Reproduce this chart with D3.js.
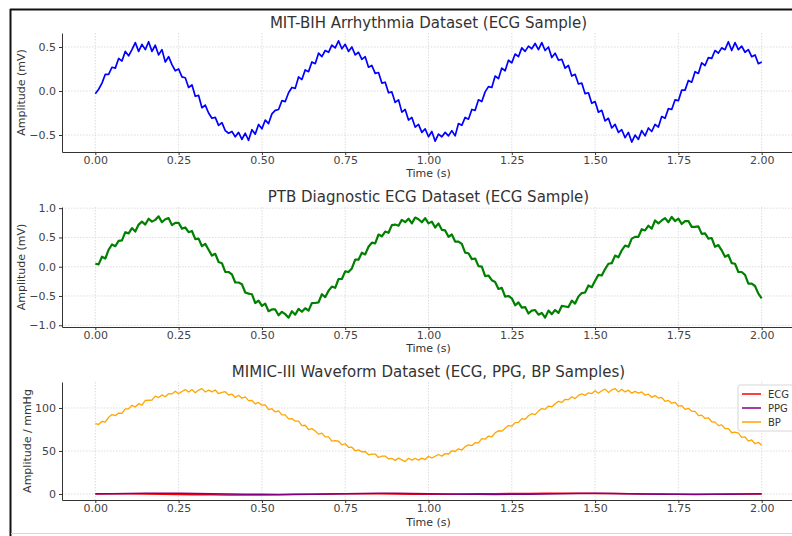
<!DOCTYPE html>
<html>
<head>
<meta charset="utf-8">
<script src="https://cdn.jsdelivr.net/npm/d3@7"></script>
<style>
body { margin: 0; background: #fff; }
svg { display: block; font-family: "DejaVu Sans", sans-serif; }
</style>
</head>
<body>
<svg id="canvas" width="792" height="536"></svg>
<script>
// samples every 0.01 s from 0 to 2 s
const sampleStep = 0.01;
const slowStep = 0.05;

const timeTicks = [0, 0.25, 0.5, 0.75, 1, 1.25, 1.5, 1.75, 2];
const mitTicks = [-0.5, 0, 0.5];
const ptbTicks = [-1, -0.5, 0, 0.5, 1];
const mimicTicks = [0, 50, 100];

const mitBih = [
  -0.03,0.02,0.09,0.19,0.19,0.27,0.26,0.37,0.34,0.45,
  0.40,0.47,0.55,0.45,0.53,0.47,0.56,0.45,0.52,0.41,
  0.47,0.33,0.39,0.30,0.23,0.25,0.16,0.15,0.04,0.07,
  -0.06,-0.05,-0.19,-0.16,-0.25,-0.31,-0.30,-0.39,-0.36,-0.45,
  -0.48,-0.46,-0.52,-0.47,-0.55,-0.48,-0.56,-0.44,-0.49,-0.38,
  -0.43,-0.33,-0.37,-0.26,-0.22,-0.21,-0.11,-0.12,-0.02,0.04,
  0.03,0.16,0.13,0.24,0.22,0.33,0.31,0.43,0.39,0.46,
  0.44,0.52,0.49,0.57,0.48,0.53,0.45,0.50,0.41,0.44,
  0.36,0.39,0.27,0.29,0.20,0.21,0.09,0.10,-0.02,-0.01,
  -0.13,-0.10,-0.24,-0.21,-0.33,-0.30,-0.41,-0.38,-0.47,-0.43,
  -0.52,-0.46,-0.57,-0.49,-0.52,-0.47,-0.51,-0.45,-0.51,-0.37,
  -0.39,-0.30,-0.32,-0.21,-0.22,-0.10,-0.12,-0.01,0.05,0.04,
  0.17,0.14,0.26,0.23,0.35,0.32,0.42,0.39,0.49,0.45,
  0.51,0.48,0.54,0.47,0.55,0.46,0.50,0.38,0.43,0.35,
  0.36,0.26,0.29,0.17,0.19,0.08,0.09,-0.03,-0.02,-0.14,
  -0.12,-0.24,-0.22,-0.34,-0.31,-0.42,-0.38,-0.47,-0.44,-0.53,
  -0.47,-0.58,-0.50,-0.55,-0.45,-0.51,-0.42,-0.46,-0.38,-0.41,
  -0.29,-0.31,-0.20,-0.21,-0.10,-0.11,0.01,0.01,0.12,0.10,
  0.22,0.20,0.32,0.29,0.38,0.37,0.46,0.43,0.49,0.47,
  0.56,0.46,0.55,0.47,0.51,0.44,0.47,0.39,0.41,0.31,
  0.33
];

const ptb = [
  0.05,0.04,0.17,0.14,0.29,0.38,0.35,0.44,0.45,0.59,
  0.57,0.66,0.60,0.72,0.77,0.72,0.82,0.77,0.80,0.86,
  0.76,0.81,0.83,0.71,0.75,0.75,0.65,0.67,0.59,0.61,
  0.47,0.48,0.35,0.39,0.29,0.19,0.22,0.08,0.06,-0.09,
  -0.09,-0.13,-0.27,-0.27,-0.30,-0.44,-0.46,-0.47,-0.62,-0.58,
  -0.67,-0.63,-0.76,-0.73,-0.73,-0.83,-0.77,-0.81,-0.87,-0.76,
  -0.82,-0.72,-0.77,-0.71,-0.75,-0.62,-0.62,-0.61,-0.47,-0.52,
  -0.41,-0.34,-0.36,-0.21,-0.21,-0.08,-0.09,-0.03,0.12,0.12,
  0.24,0.21,0.34,0.41,0.40,0.55,0.52,0.60,0.58,0.71,
  0.72,0.70,0.80,0.76,0.82,0.74,0.84,0.81,0.76,0.83,
  0.74,0.77,0.67,0.74,0.63,0.62,0.51,0.55,0.43,0.43,
  0.39,0.24,0.23,0.13,0.14,0.01,0.00,-0.16,-0.15,-0.23,
  -0.26,-0.38,-0.36,-0.51,-0.50,-0.54,-0.66,-0.61,-0.70,-0.69,
  -0.80,-0.75,-0.74,-0.82,-0.79,-0.87,-0.75,-0.81,-0.74,-0.79,
  -0.67,-0.68,-0.69,-0.58,-0.63,-0.51,-0.45,-0.44,-0.32,-0.35,
  -0.24,-0.14,-0.15,-0.04,0.05,0.06,0.19,0.16,0.28,0.36,
  0.34,0.48,0.51,0.51,0.64,0.62,0.70,0.65,0.79,0.74,
  0.79,0.83,0.76,0.85,0.78,0.82,0.73,0.78,0.78,0.68,
  0.68,0.69,0.56,0.57,0.48,0.49,0.34,0.37,0.28,0.17,
  0.20,0.06,0.05,-0.09,-0.09,-0.14,-0.29,-0.29,-0.33,-0.46,
  -0.54
];

const bp = [
  81.8,80.8,84.5,83.7,89.1,92.4,91.1,94.1,93.8,99.0,
  98.9,103.1,101.1,105.0,103.4,108.7,109.0,109.1,113.7,112.1,
  115.2,113.0,116.7,116.3,119.4,116.5,119.2,121.4,118.5,121.4,
  117.8,120.8,122.5,118.5,120.8,118.8,120.9,116.6,118.1,118.9,
  114.9,116.2,112.1,114.8,111.4,112.9,108.5,108.7,104.8,106.4,
  103.3,103.6,98.1,99.2,95.4,96.7,91.9,92.0,87.4,87.7,
  84.6,84.8,79.5,79.9,74.8,76.0,73.3,69.6,70.7,66.4,
  66.5,61.5,62.1,61.3,57.1,58.4,54.3,54.4,50.2,51.3,
  48.9,49.4,45.6,46.3,46.4,42.4,43.9,44.1,40.7,41.5,
  39.1,41.7,39.7,37.6,41.5,39.4,41.5,39.4,41.7,40.0,
  43.9,41.8,43.9,45.9,44.0,46.9,46.5,50.3,49.4,52.5,
  51.1,55.0,57.1,56.2,59.6,59.4,64.3,63.7,67.3,66.5,
  71.0,73.5,73.0,76.4,79.6,78.8,83.0,83.2,87.7,86.7,
  90.9,93.3,92.2,96.4,99.3,98.4,102.2,101.2,104.9,107.8,
  106.4,110.1,109.6,113.0,110.9,114.6,116.5,114.6,117.6,116.7,
  120.0,117.2,120.0,121.9,118.1,121.0,122.6,118.7,121.7,118.7,
  120.7,117.2,119.3,117.2,118.6,114.8,116.1,112.4,114.4,111.5,
  112.2,107.7,108.8,105.5,106.6,102.2,102.8,98.5,99.6,96.1,
  96.0,91.1,91.7,87.8,88.6,84.0,83.6,79.5,80.4,76.1,
  76.1,71.2,71.9,70.8,65.9,66.3,61.5,62.8,58.4,60.0,
  56.8
];

// MIMIC ECG / PPG traces sit almost flat on zero (every 0.05 s)
const mimicEcg = [
  0.0,0.2,0.3,0.1,-0.2,-0.5,-0.8,-1.0,-1.1,-1.2,
  -1.1,-0.9,-0.6,-0.3,0.0,0.2,0.3,0.2,0.0,-0.2,
  -0.3,-0.2,0.0,0.2,0.4,0.6,0.7,0.8,0.9,0.8,
  0.7,0.5,0.3,0.1,-0.1,-0.2,-0.3,-0.2,-0.1,0.0,
  0.1
];
const mimicPpg = [
  0.2,0.4,0.6,0.8,0.9,0.8,0.6,0.3,0.0,-0.2,
  -0.4,-0.5,-0.4,-0.2,0.1,0.4,0.7,0.9,0.8,0.5,
  0.2,0.0,-0.2,-0.4,-0.5,-0.4,-0.2,0.1,0.4,0.6,
  0.8,0.7,0.4,0.1,-0.2,-0.4,-0.5,-0.4,-0.2,0.0,
  0.2
];

const svg = d3.select('#canvas');

svg.append('rect').attr('width', 792).attr('height', 536).attr('fill', '#fff');

// figure frame (the picture is a crop of a bordered figure)
svg.append('line').attr('x1', 10).attr('x2', 792).attr('y1', 9.5).attr('y2', 9.5)
  .attr('stroke', '#111').attr('stroke-width', 2);
svg.append('line').attr('x1', 10.5).attr('x2', 10.5).attr('y1', 9).attr('y2', 536)
  .attr('stroke', '#111').attr('stroke-width', 2);
svg.append('line').attr('x1', 11).attr('x2', 792).attr('y1', 533.5).attr('y2', 533.5)
  .attr('stroke', '#d8d8d8').attr('stroke-width', 1);

function drawPanel(p){
  const x = d3.scaleLinear().domain([-0.1, 2.1]).range([62, 795]);
  const y = d3.scaleLinear().domain(p.yDomain).range([p.bottom, p.top]);
  const g = svg.append('g');

  // dotted grid
  g.selectAll('line.vg').data(timeTicks).join('line')
    .attr('x1', d => x(d)).attr('x2', d => x(d))
    .attr('y1', p.top).attr('y2', p.bottom)
    .attr('stroke', '#d4d4d4').attr('stroke-width', 0.8).attr('stroke-dasharray', '1.5,1.5');
  g.selectAll('line.hg').data(p.yTicks).join('line')
    .attr('x1', 62).attr('x2', 795)
    .attr('y1', d => y(d)).attr('y2', d => y(d))
    .attr('stroke', '#d4d4d4').attr('stroke-width', 0.8).attr('stroke-dasharray', '1.5,1.5');

  // series
  for (let s of p.series){
    const line = d3.line()
      .x((d, i) => x(i * s.step))
      .y(d => y(d));
    g.append('path').datum(s.values)
      .attr('d', line)
      .attr('fill', 'none')
      .attr('stroke', s.color)
      .attr('stroke-width', s.width)
      .attr('stroke-linejoin', 'round');
  }

  // axes
  const xAxis = g.append('g').attr('transform', `translate(0,${p.bottom})`)
    .call(d3.axisBottom(x).tickValues(timeTicks).tickFormat(d3.format('.2f'))
      .tickSize(3).tickSizeOuter(0).tickPadding(1));
  const yAxis = g.append('g').attr('transform', 'translate(62,0)')
    .call(d3.axisLeft(y).tickValues(p.yTicks).tickFormat(p.fmt)
      .tickSize(3).tickSizeOuter(0).tickPadding(3));
  for (let a of [xAxis, yAxis]){
    a.select('.domain').attr('stroke', '#333').attr('stroke-width', 1);
    a.selectAll('.tick line').attr('stroke', '#333');
    a.selectAll('.tick text').attr('fill', '#444').style('font-size', '11px')
      .style('font-family', '"DejaVu Sans", sans-serif');
  }

  g.append('text').text(p.title)
    .attr('x', 428.5).attr('y', p.titleY).attr('text-anchor', 'middle')
    .attr('fill', '#333').style('font-size', '15px');
  g.append('text').text('Time (s)')
    .attr('x', 428.5).attr('y', p.xLabelY).attr('text-anchor', 'middle')
    .attr('fill', '#333').style('font-size', '11px');
  g.append('text').text(p.yLabel)
    .attr('transform', `translate(${p.yLabelX},${(p.top + p.bottom) / 2}) rotate(-90)`)
    .attr('text-anchor', 'middle')
    .attr('fill', '#333').style('font-size', '11px');

  if (p.legend){
    const lg = g.append('g').attr('transform', 'translate(738,385)');
    lg.append('rect').attr('width', 60).attr('height', 46).attr('rx', 2)
      .attr('fill', '#fff').attr('fill-opacity', 0.85).attr('stroke', '#ccc').attr('stroke-width', 0.8);
    lg.selectAll('g.item').data(p.series).join('g')
      .attr('transform', (d, i) => `translate(0,${9 + i * 14})`)
      .each(function(d){
        const it = d3.select(this);
        it.append('line').attr('x1', 4).attr('x2', 23).attr('y1', 0).attr('y2', 0)
          .attr('stroke', d.color).attr('stroke-width', 1.5);
        it.append('text').text(d.name).attr('x', 30).attr('y', 3.5)
          .attr('fill', '#333').style('font-size', '10px');
      });
  }
}

const fmt1 = d3.format('.1f');

drawPanel({
  title: 'MIT-BIH Arrhythmia Dataset (ECG Sample)', titleY: 28, xLabelY: 177,
  yLabel: 'Amplitude (mV)', yLabelX: 25,
  top: 33, bottom: 152, yDomain: [-0.693, 0.659], yTicks: mitTicks, fmt: fmt1,
  series: [{ name: 'ECG', values: mitBih, step: sampleStep, color: '#0000ff', width: 1.7 }]
});

drawPanel({
  title: 'PTB Diagnostic ECG Dataset (ECG Sample)', titleY: 202, xLabelY: 352,
  yLabel: 'Amplitude (mV)', yLabelX: 25,
  top: 207, bottom: 327, yDomain: [-1.03, 1.02], yTicks: ptbTicks, fmt: fmt1,
  series: [{ name: 'ECG', values: ptb, step: sampleStep, color: '#008000', width: 2.2 }]
});

drawPanel({
  title: 'MIMIC-III Waveform Dataset (ECG, PPG, BP Samples)', titleY: 377, xLabelY: 526,
  yLabel: 'Amplitude / mmHg', yLabelX: 31,
  top: 382, bottom: 500, yDomain: [-7, 130.2], yTicks: mimicTicks, fmt: d3.format('d'),
  legend: true,
  series: [
    { name: 'ECG', values: mimicEcg, step: slowStep, color: '#ff0000', width: 1.5 },
    { name: 'PPG', values: mimicPpg, step: slowStep, color: '#800080', width: 1.5 },
    { name: 'BP', values: bp, step: sampleStep, color: '#ffa500', width: 1.3 }
  ]
});
</script>
</body>
</html>
